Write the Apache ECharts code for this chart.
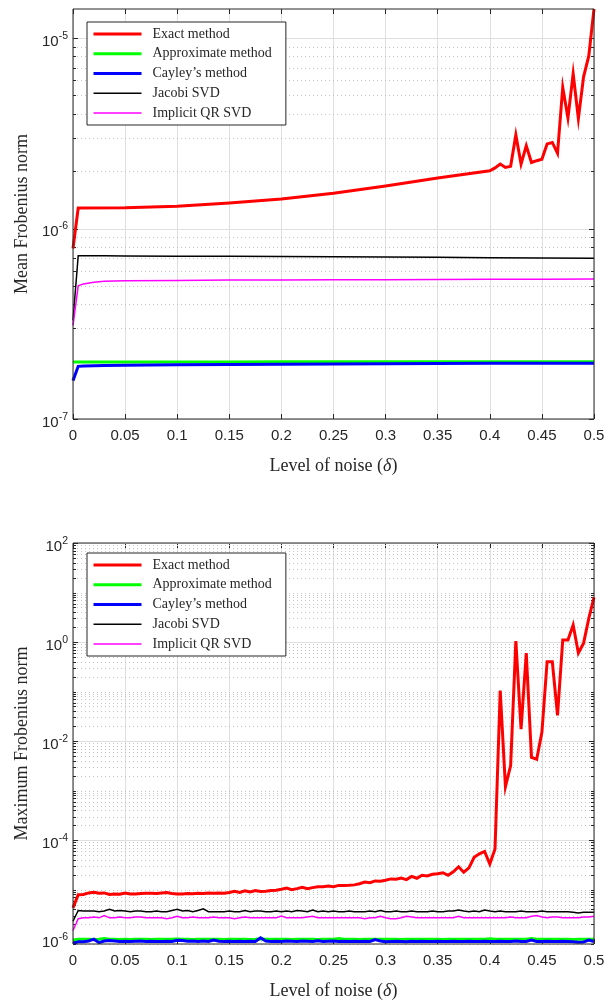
<!DOCTYPE html>
<html>
<head>
<meta charset="utf-8">
<script src="https://cdn.jsdelivr.net/npm/echarts/dist/echarts.min.js"></script>
<style>
html,body{margin:0;padding:0;background:#fff;}
#c{width:610px;height:1001px;}
</style>
</head>
<body>
<div id="c"></div>
<script>
// ---------- names ----------
const seriesNames = ['Exact method', 'Approximate method', "Cayley’s method", 'Jacobi SVD', 'Implicit QR SVD'];

// ---------- top plot (mean Frobenius norm) ----------
const topExactX = [0, 0.005, 0.05, 0.1, 0.15, 0.2, 0.25, 0.3, 0.35, 0.4, 0.405, 0.41, 0.415, 0.42, 0.425, 0.43, 0.435, 0.44, 0.445, 0.45, 0.455, 0.46, 0.465, 0.47, 0.475, 0.48, 0.485, 0.49, 0.495, 0.5];
const topExact = [7.85e-7, 1.28e-6, 1.285e-6, 1.31e-6, 1.36e-6, 1.43e-6, 1.53e-6, 1.67e-6, 1.84e-6, 2.01e-6, 2.08e-6, 2.18e-6, 2.09e-6, 2.12e-6, 3.10e-6, 2.18e-6, 2.72e-6, 2.22e-6, 2.27e-6, 2.31e-6, 2.78e-6, 2.83e-6, 2.48e-6, 5.5e-6, 3.8e-6, 6.5e-6, 3.77e-6, 6.25e-6, 8.05e-6, 1.42e-5];
const topX = [0, 0.005, 0.01, 0.02, 0.03, 0.05, 0.1, 0.15, 0.2, 0.25, 0.3, 0.35, 0.4, 0.45, 0.5];
const topApprox = [1.99e-7, 1.99e-7, 1.99e-7, 1.99e-7, 1.99e-7, 1.99e-7, 1.99e-7, 1.99e-7, 1.995e-7, 1.995e-7, 1.995e-7, 2.0e-7, 2.0e-7, 2.0e-7, 2.0e-7];
const topCayley = [1.59e-7, 1.89e-7, 1.9e-7, 1.905e-7, 1.91e-7, 1.915e-7, 1.925e-7, 1.93e-7, 1.94e-7, 1.945e-7, 1.95e-7, 1.955e-7, 1.96e-7, 1.96e-7, 1.96e-7];
const topJacobi = [3.3e-7, 7.2e-7, 7.2e-7, 7.19e-7, 7.19e-7, 7.18e-7, 7.16e-7, 7.14e-7, 7.12e-7, 7.1e-7, 7.08e-7, 7.06e-7, 7.03e-7, 7.0e-7, 6.97e-7];
const topQR = [3.1e-7, 5.0e-7, 5.12e-7, 5.22e-7, 5.28e-7, 5.31e-7, 5.34e-7, 5.36e-7, 5.37e-7, 5.38e-7, 5.39e-7, 5.4e-7, 5.41e-7, 5.42e-7, 5.43e-7];
const topMajorTicks = [1e-7, 1e-6, 1e-5];
const topMinorTicks = [2e-7, 3e-7, 4e-7, 5e-7, 6e-7, 7e-7, 8e-7, 9e-7, 2e-6, 3e-6, 4e-6, 5e-6, 6e-6, 7e-6, 8e-6, 9e-6];

// ---------- bottom plot (maximum Frobenius norm) ----------
const noiseLevels = [0, 0.005, 0.01, 0.015, 0.02, 0.025, 0.03, 0.035, 0.04, 0.045,
  0.05, 0.055, 0.06, 0.065, 0.07, 0.075, 0.08, 0.085, 0.09, 0.095,
  0.1, 0.105, 0.11, 0.115, 0.12, 0.125, 0.13, 0.135, 0.14, 0.145,
  0.15, 0.155, 0.16, 0.165, 0.17, 0.175, 0.18, 0.185, 0.19, 0.195,
  0.2, 0.205, 0.21, 0.215, 0.22, 0.225, 0.23, 0.235, 0.24, 0.245,
  0.25, 0.255, 0.26, 0.265, 0.27, 0.275, 0.28, 0.285, 0.29, 0.295,
  0.3, 0.305, 0.31, 0.315, 0.32, 0.325, 0.33, 0.335, 0.34, 0.345,
  0.35, 0.355, 0.36, 0.365, 0.37, 0.375, 0.38, 0.385, 0.39, 0.395,
  0.4, 0.405, 0.41, 0.415, 0.42, 0.425, 0.43, 0.435, 0.44, 0.445,
  0.45, 0.455, 0.46, 0.465, 0.47, 0.475, 0.48, 0.485, 0.49, 0.495,
  0.5];
const botExact = [4.3e-6, 7.9e-6, 8.0e-6, 8.6e-6, 8.9e-6, 8.5e-6, 8.6e-6, 8.0e-6, 8.2e-6, 8.1e-6,
  8.6e-6, 8.2e-6, 8.2e-6, 8.4e-6, 8.5e-6, 8.5e-6, 8.4e-6, 8.6e-6, 8.8e-6, 8.4e-6,
  8.2e-6, 8.2e-6, 8.4e-6, 8.3e-6, 8.5e-6, 8.4e-6, 8.6e-6, 8.5e-6, 8.6e-6, 8.5e-6,
  8.8e-6, 9.3e-6, 8.8e-6, 9.5e-6, 9.0e-6, 9.6e-6, 9.2e-6, 9.3e-6, 9.6e-6, 9.7e-6,
  1.02e-5, 1.08e-5, 1.0e-5, 1.05e-5, 1.12e-5, 1.05e-5, 1.1e-5, 1.15e-5, 1.15e-5, 1.18e-5,
  1.15e-5, 1.22e-5, 1.22e-5, 1.23e-5, 1.25e-5, 1.32e-5, 1.42e-5, 1.38e-5, 1.5e-5, 1.48e-5,
  1.55e-5, 1.65e-5, 1.62e-5, 1.72e-5, 1.6e-5, 1.85e-5, 1.7e-5, 1.95e-5, 1.9e-5, 2.05e-5,
  2.1e-5, 2.2e-5, 1.95e-5, 2.3e-5, 2.9e-5, 2.25e-5, 2.75e-5, 4.5e-5, 5.3e-5, 5.9e-5,
  3.3e-5, 6.6e-5, 0.105, 1.2e-3, 3.2e-3, 1.05, 0.0175, 0.6, 4.7e-3, 4.3e-3,
  0.015, 0.4, 0.4, 0.033, 1.1, 1.1, 2.2, 0.6, 0.95, 3.0,
  8.0];
const botApprox = [9.6e-7, 1.0e-6, 1.0e-6, 1.0e-6, 9.9e-7, 1.0e-6, 1.03e-6, 1.0e-6, 1.0e-6, 9.9e-7,
  1.0e-6, 9.9e-7, 1.0e-6, 1.0e-6, 1.0e-6, 9.9e-7, 1.0e-6, 1.0e-6, 1.0e-6, 1.0e-6,
  1.01e-6, 1.0e-6, 1.0e-6, 9.9e-7, 1.0e-6, 1.0e-6, 1.0e-6, 1.0e-6, 1.0e-6, 9.9e-7,
  1.0e-6, 1.0e-6, 1.0e-6, 1.0e-6, 9.9e-7, 1.0e-6, 1.02e-6, 1.0e-6, 1.0e-6, 1.0e-6,
  1.0e-6, 1.0e-6, 9.9e-7, 1.0e-6, 1.0e-6, 1.0e-6, 1.0e-6, 9.9e-7, 1.0e-6, 1.0e-6,
  1.0e-6, 1.03e-6, 1.0e-6, 1.0e-6, 1.0e-6, 9.9e-7, 1.0e-6, 1.0e-6, 1.0e-6, 1.0e-6,
  1.0e-6, 1.0e-6, 1.0e-6, 9.9e-7, 1.0e-6, 1.0e-6, 1.0e-6, 1.0e-6, 1.0e-6, 1.0e-6,
  1.0e-6, 9.9e-7, 1.0e-6, 1.0e-6, 1.0e-6, 1.0e-6, 1.0e-6, 1.0e-6, 1.0e-6, 1.0e-6,
  1.02e-6, 1.0e-6, 1.0e-6, 1.0e-6, 1.0e-6, 1.0e-6, 1.0e-6, 1.0e-6, 1.03e-6, 1.0e-6,
  1.0e-6, 1.0e-6, 1.0e-6, 1.0e-6, 1.0e-6, 1.0e-6, 9.9e-7, 1.0e-6, 1.0e-6, 1.0e-6,
  1.0e-6];
const botCayley = [8.1e-7, 8.9e-7, 8.9e-7, 9.2e-7, 1.0e-6, 8.5e-7, 9.2e-7, 9.4e-7, 9.2e-7, 9.0e-7,
  9.1e-7, 9.0e-7, 9.1e-7, 9.2e-7, 9.0e-7, 9.1e-7, 9.0e-7, 9.0e-7, 9.1e-7, 9.0e-7,
  9.5e-7, 9.4e-7, 9.1e-7, 9.2e-7, 9.0e-7, 9.2e-7, 9.0e-7, 9.6e-7, 9.1e-7, 9.0e-7,
  9.1e-7, 9.0e-7, 9.1e-7, 9.0e-7, 9.1e-7, 9.0e-7, 1.07e-6, 9.2e-7, 9.0e-7, 9.1e-7,
  9.0e-7, 9.2e-7, 9.1e-7, 9.0e-7, 9.2e-7, 9.1e-7, 9.0e-7, 9.3e-7, 9.0e-7, 9.1e-7,
  9.2e-7, 9.0e-7, 9.1e-7, 9.0e-7, 9.1e-7, 9.0e-7, 9.1e-7, 9.0e-7, 9.8e-7, 9.2e-7,
  8.9e-7, 9.0e-7, 9.1e-7, 9.0e-7, 8.9e-7, 9.1e-7, 9.0e-7, 9.1e-7, 9.0e-7, 9.0e-7,
  9.1e-7, 9.0e-7, 9.0e-7, 9.1e-7, 9.0e-7, 9.0e-7, 9.1e-7, 9.0e-7, 9.0e-7, 9.1e-7,
  9.0e-7, 9.0e-7, 9.1e-7, 9.0e-7, 9.0e-7, 9.2e-7, 9.0e-7, 9.0e-7, 9.6e-7, 9.0e-7,
  9.0e-7, 9.1e-7, 9.0e-7, 9.0e-7, 9.1e-7, 9.0e-7, 8.9e-7, 8.7e-7, 8.8e-7, 9.6e-7,
  9.0e-7];
const botJacobi = [2.3e-6, 3.8e-6, 3.7e-6, 3.7e-6, 3.7e-6, 3.6e-6, 3.7e-6, 4.0e-6, 3.7e-6, 3.8e-6,
  3.7e-6, 3.6e-6, 3.7e-6, 3.7e-6, 3.6e-6, 3.6e-6, 3.7e-6, 3.6e-6, 3.6e-6, 3.8e-6,
  4.0e-6, 3.7e-6, 3.8e-6, 3.6e-6, 3.8e-6, 4.1e-6, 3.6e-6, 3.6e-6, 3.6e-6, 3.6e-6,
  3.7e-6, 3.6e-6, 3.6e-6, 3.8e-6, 3.6e-6, 3.7e-6, 3.7e-6, 3.6e-6, 3.6e-6, 3.7e-6,
  3.6e-6, 3.7e-6, 3.6e-6, 3.8e-6, 3.7e-6, 3.6e-6, 3.9e-6, 3.6e-6, 3.7e-6, 3.6e-6,
  3.7e-6, 3.6e-6, 3.6e-6, 3.7e-6, 3.6e-6, 3.6e-6, 3.6e-6, 3.7e-6, 3.6e-6, 3.8e-6,
  3.6e-6, 3.6e-6, 3.7e-6, 3.6e-6, 3.6e-6, 3.7e-6, 3.6e-6, 3.6e-6, 3.6e-6, 3.7e-6,
  3.6e-6, 3.6e-6, 3.7e-6, 3.7e-6, 3.9e-6, 3.7e-6, 3.6e-6, 3.7e-6, 3.6e-6, 3.9e-6,
  3.7e-6, 3.6e-6, 3.7e-6, 3.6e-6, 3.6e-6, 3.6e-6, 3.7e-6, 3.6e-6, 3.6e-6, 3.6e-6,
  3.7e-6, 3.6e-6, 3.6e-6, 3.6e-6, 3.6e-6, 3.6e-6, 3.5e-6, 3.4e-6, 3.5e-6, 3.5e-6,
  3.5e-6];
const botQR = [1.5e-6, 2.6e-6, 2.7e-6, 2.7e-6, 2.8e-6, 2.7e-6, 3.0e-6, 2.7e-6, 2.7e-6, 2.8e-6,
  2.7e-6, 2.7e-6, 2.8e-6, 2.8e-6, 2.7e-6, 2.7e-6, 2.7e-6, 2.7e-6, 2.6e-6, 2.7e-6,
  2.9e-6, 2.7e-6, 2.7e-6, 2.8e-6, 2.7e-6, 2.7e-6, 2.7e-6, 2.8e-6, 2.7e-6, 2.7e-6,
  2.7e-6, 2.6e-6, 2.7e-6, 2.8e-6, 2.7e-6, 2.7e-6, 2.7e-6, 2.7e-6, 2.7e-6, 2.7e-6,
  2.95e-6, 2.7e-6, 2.7e-6, 2.7e-6, 2.7e-6, 2.8e-6, 2.9e-6, 2.7e-6, 2.7e-6, 2.7e-6,
  2.7e-6, 2.7e-6, 2.7e-6, 2.7e-6, 2.7e-6, 2.7e-6, 2.6e-6, 2.7e-6, 2.7e-6, 2.9e-6,
  2.7e-6, 2.6e-6, 2.6e-6, 2.7e-6, 2.9e-6, 2.8e-6, 2.7e-6, 2.7e-6, 2.7e-6, 2.7e-6,
  2.7e-6, 2.7e-6, 2.7e-6, 2.7e-6, 2.9e-6, 2.7e-6, 2.7e-6, 2.7e-6, 2.7e-6, 2.7e-6,
  2.7e-6, 2.7e-6, 2.7e-6, 2.7e-6, 2.8e-6, 2.7e-6, 2.7e-6, 2.7e-6, 2.9e-6, 3.0e-6,
  2.8e-6, 2.7e-6, 2.8e-6, 2.8e-6, 2.7e-6, 2.7e-6, 2.7e-6, 2.7e-6, 2.8e-6, 2.8e-6,
  2.9e-6];
const botMajorTicks = [1e-6, 1e-4, 1e-2, 1, 100];
const botMinorTicks = [8e-7, 9e-7,
  2e-6, 3e-6, 4e-6, 5e-6, 6e-6, 7e-6, 8e-6, 9e-6, 1e-5,
  2e-5, 3e-5, 4e-5, 5e-5, 6e-5, 7e-5, 8e-5, 9e-5,
  2e-4, 3e-4, 4e-4, 5e-4, 6e-4, 7e-4, 8e-4, 9e-4, 1e-3,
  2e-3, 3e-3, 4e-3, 5e-3, 6e-3, 7e-3, 8e-3, 9e-3,
  0.02, 0.03, 0.04, 0.05, 0.06, 0.07, 0.08, 0.09, 0.1,
  0.2, 0.3, 0.4, 0.5, 0.6, 0.7, 0.8, 0.9,
  2, 3, 4, 5, 6, 7, 8, 9, 10,
  20, 30, 40, 50, 60, 70, 80, 90];

// ---------- styling ----------
const AX = '#262626';
const MAJOR_GRID = '#dfdfdf';
const MINOR_GRID = '#c4c4c4';
const colors = ['#ff0000', '#00ff00', '#0000ff', '#000000', '#ff00ff'];
const widths = [3, 3, 3, 1.5, 1.5];
const SANS = 'Liberation Sans';
const SERIF = 'Liberation Serif';

function zip(xs, ys) { return xs.map((x, i) => [x, ys[i]]); }

function lineSeries(name, idx, xs, ys, axisIdx) {
  return {
    name: name, type: 'line', xAxisIndex: axisIdx * 2, yAxisIndex: axisIdx,
    data: zip(xs, ys), symbol: 'none', showSymbol: false, animation: false,
    color: colors[idx],
    lineStyle: { color: colors[idx], width: widths[idx], join: 'miter' },
    z: 5
  };
}

function gridSeries(vals, axisIdx, major) {
  return {
    type: 'custom', xAxisIndex: axisIdx * 2, yAxisIndex: axisIdx, silent: true,
    animation: false, clip: false, z: major ? 2 : 1,
    data: vals.map(v => [0, v]),
    renderItem: function (params, api) {
      const cs = params.coordSys;
      const y = Math.round(api.coord([0, api.value(1)])[1]) + 0.5;
      const len = major ? 5 : 3;
      return {
        type: 'group',
        children: [
          { type: 'line', shape: { x1: cs.x, y1: y, x2: cs.x + cs.width, y2: y },
            style: major ? { stroke: MAJOR_GRID, lineWidth: 1 } : { stroke: MINOR_GRID, lineWidth: 1, lineDash: [1, 3] } },
          { type: 'line', shape: { x1: cs.x, y1: y, x2: cs.x + len, y2: y }, style: { stroke: AX, lineWidth: 1 } },
          { type: 'line', shape: { x1: cs.x + cs.width - len, y1: y, x2: cs.x + cs.width, y2: y }, style: { stroke: AX, lineWidth: 1 } }
        ]
      };
    }
  };
}

function supLabel(step) {
  return function (v) {
    const l = Math.log10(v);
    const e = Math.round(l);
    if (Math.abs(l - e) > 1e-6) return '';
    if (step === 2 && e % 2 !== 0) return '';
    return '{b|10}{s|' + e + '}';
  };
}
const supRich = {
  b: { fontFamily: SANS, fontSize: 15, color: AX, lineHeight: 22, verticalAlign: 'middle' },
  s: { fontFamily: SANS, fontSize: 10.5, color: AX, lineHeight: 7, verticalAlign: 'top' }
};

function xAxes(gridIdx) {
  return [
    {
      type: 'value', gridIndex: gridIdx, min: 0, max: 0.5, interval: 0.05, position: 'bottom',
      name: '{a|Level of noise (}{i|δ}{a|)}', nameLocation: 'middle', nameGap: 38,
      nameTextStyle: { rich: {
        a: { fontFamily: SERIF, fontSize: 18, color: AX },
        i: { fontFamily: SERIF, fontSize: 18, color: AX, fontStyle: 'italic' }
      } },
      axisLine: { show: false },
      axisTick: { show: true, inside: true, length: 5, lineStyle: { color: AX } },
      axisLabel: { margin: 9, fontFamily: SANS, fontSize: 15, color: AX },
      splitLine: { show: true, lineStyle: { color: MAJOR_GRID, width: 1 } }
    },
    {
      type: 'value', gridIndex: gridIdx, min: 0, max: 0.5, interval: 0.05, position: 'top',
      axisLine: { show: false },
      axisTick: { show: true, inside: true, length: 5, lineStyle: { color: AX } },
      axisLabel: { show: false },
      splitLine: { show: false }
    }
  ];
}

function yAxis(gridIdx, min, max, name, step) {
  return {
    type: 'log', logBase: 10, gridIndex: gridIdx, min: min, max: max,
    name: name, nameLocation: 'middle', nameGap: 42,
    nameTextStyle: { fontFamily: SERIF, fontSize: 18, color: AX },
    axisLine: { show: false }, axisTick: { show: false },
    splitLine: { show: false }, minorTick: { show: false }, minorSplitLine: { show: false },
    axisLabel: { formatter: supLabel(step), rich: supRich, margin: 5, padding: [7, 0, 0, 0], showMinLabel: true, showMaxLabel: true }
  };
}

function legend(top) {
  return {
    orient: 'vertical', left: 87, top: top, itemWidth: 48, itemHeight: 14, itemGap: 5.75,
    padding: [5, 14, 5, 5], borderColor: AX, borderWidth: 1, backgroundColor: '#ffffff',
    textStyle: { fontFamily: SERIF, fontSize: 14, color: AX, padding: [0, 0, 0, 6] },
    itemStyle: { opacity: 0 },
    lineStyle: { width: 'inherit' },
    data: seriesNames, selectedMode: false, z: 10
  };
}

const chart = echarts.init(document.getElementById('c'), null, { renderer: 'canvas' });
const option = {
  backgroundColor: '#ffffff',
  animation: false,
  grid: [
    { left: 73, top: 9, width: 521, height: 410, show: true, borderColor: AX, borderWidth: 1, backgroundColor: 'transparent', z: 6 },
    { left: 73, top: 543, width: 521, height: 410, show: true, borderColor: AX, borderWidth: 1, backgroundColor: 'transparent', z: 6 }
  ],
  legend: [legend(22), legend(553)],
  xAxis: xAxes(0).concat(xAxes(1)),
  yAxis: [
    yAxis(0, 1e-7, 1.42e-5, 'Mean Frobenius norm', 1),
    yAxis(1, 8e-7, 100, 'Maximum Frobenius norm', 2)
  ],
  series: [
    gridSeries(topMinorTicks, 0, false),
    gridSeries(topMajorTicks, 0, true),
    gridSeries(botMinorTicks, 1, false),
    gridSeries(botMajorTicks, 1, true),
    lineSeries(seriesNames[0], 0, topExactX, topExact, 0),
    lineSeries(seriesNames[1], 1, topX, topApprox, 0),
    lineSeries(seriesNames[2], 2, topX, topCayley, 0),
    lineSeries(seriesNames[3], 3, topX, topJacobi, 0),
    lineSeries(seriesNames[4], 4, topX, topQR, 0),
    lineSeries(seriesNames[0], 0, noiseLevels, botExact, 1),
    lineSeries(seriesNames[1], 1, noiseLevels, botApprox, 1),
    lineSeries(seriesNames[2], 2, noiseLevels, botCayley, 1),
    lineSeries(seriesNames[3], 3, noiseLevels, botJacobi, 1),
    lineSeries(seriesNames[4], 4, noiseLevels, botQR, 1)
  ]
};
chart.setOption(option);
</script>
</body>
</html>
